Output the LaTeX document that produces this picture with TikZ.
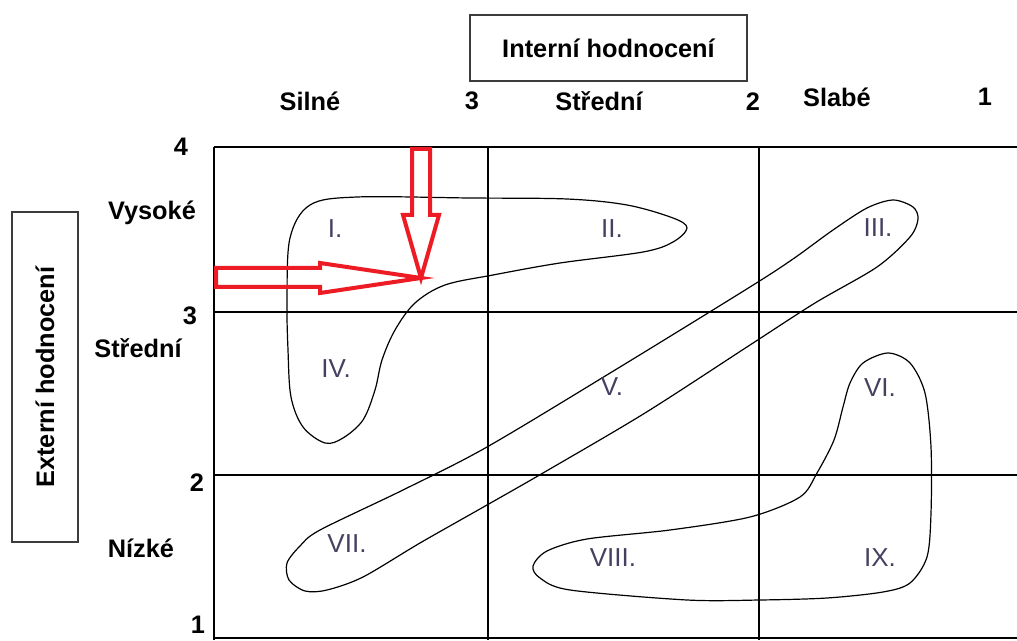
\documentclass[tikz,border=0pt]{standalone}
\usepackage{fontspec}
\setmainfont{Liberation Sans}
\begin{document}
\begin{tikzpicture}[x=0.75pt,y=-0.75pt,
  lbl/.style={font=\fontsize{19}{22}\selectfont\bfseries, inner sep=0pt},
  num/.style={font=\fontsize{19}{22}\selectfont\bfseries, inner sep=0pt},
  zone/.style={font=\fontsize{19.5}{22}\selectfont, text={rgb,255:red,70;green,64;blue,96}, inner sep=0pt},
  titlebox/.style={draw={rgb,255:red,60;green,60;blue,60}, line width=1.1pt, inner sep=0pt},
  gridline/.style={line width=1.1pt, black},
  region/.style={line width=0.9pt, black},
  bigarrow/.style={draw={rgb,255:red,237;green,28;blue,36}, line width=3pt, line join=miter}]
\useasboundingbox (0,0) rectangle (1017,641);

% axis title boxes
\node[titlebox, minimum width=277*0.75pt, minimum height=66*0.75pt, anchor=center] (intbox) at (608.5,48) {};
\node[lbl] (inttxt) at (intbox.center) {Interní hodnocení};
\node[titlebox, minimum width=66*0.75pt, minimum height=330*0.75pt, anchor=center] (extbox) at (45,377) {};
\node[lbl, rotate=90] (exttxt) at (extbox.center) {Externí hodnocení};

% column headings and scale
\node[lbl] (silne) at (310,101) {Silné};
\node[num] (c3) at (472,101) {3};
\node[lbl] (stredniC) at (599,101) {Střední};
\node[num] (c2) at (753,102) {2};
\node[lbl] (slabe) at (837,97) {Slabé};
\node[num] (c1) at (985,97) {1};

% row headings and scale
\node[num] (r4) at (181,147) {4};
\node[lbl] (vysoke) at (152,213) {Vysoké};
\node[num] (r3) at (190,316) {3};
\node[lbl] (stredniR) at (138,348) {Střední};
\node[num] (r2) at (197,483) {2};
\node[lbl] (nizke) at (141,548) {Nízké};
\node[num] (r1) at (198,625) {1};

% grid
\draw[gridline] (214,147) -- (1017,147);
\draw[gridline] (214,312) -- (1017,312);
\draw[gridline] (214,475) -- (1017,475);
\draw[gridline] (214,638) -- (1017,638);
\draw[gridline] (214,147) -- (214,640);
\draw[gridline] (488,147) -- (488,640);
\draw[gridline] (759,147) -- (759,640);

% strategy regions
\draw[region] plot[smooth cycle, tension=0.55] coordinates {
  (357,197) (470,198) (567,199) (627,205) (673,218) (687,228) (673,242) (643,252)
  (560,263) (493,275) (445,285) (415,303) (395,330) (382,360) (375,390)
  (363,420) (343,438) (325,443) (303,427) (291,397) (288,350) (287,300)
  (290,238) (310,205)};
\draw[region] plot[smooth cycle, tension=0.5] coordinates {
  (867,208) (893,200) (913,207) (918,219) (910,237) (877,267) (815,303)
  (750,345) (645,413) (543,473) (487,505) (420,543) (363,577)
  (327,590) (305,591) (289,580) (287,563) (300,546) (320,530) (403,490)
  (487,447) (620,367) (750,287) (793,259) (833,230)};
\draw[region] plot[smooth cycle, tension=0.5] coordinates {
  (888,353) (910,363) (925,393) (931,447) (931,513) (927,557) (910,583)
  (883,592) (827,598) (760,600) (687,600) (570,590) (540,578) (533,566)
  (547,551) (587,539) (670,530) (750,517) (800,497) (817,473) (834,440)
  (843,407) (850,383) (863,363)};

% region labels
\node[zone] (z1) at (335,229) {I.};
\node[zone] (z2) at (612,229) {II.};
\node[zone] (z3) at (878,228) {III.};
\node[zone] (z4) at (336,369) {IV.};
\node[zone] (z5) at (612,387) {V.};
\node[zone] (z6) at (880,388) {VI.};
\node[zone] (z7) at (347,544) {VII.};
\node[zone] (z8) at (613,558) {VIII.};
\node[zone] (z9) at (880,558) {IX.};

% outlined position arrows
\coordinate (tip) at (421,278);
\draw[bigarrow] (412,149) -- (412,215) -- (403,215) -- (tip) -- (439,215)
  -- (430,215) -- (430,149) -- cycle;
\draw[bigarrow] (216,268) -- (320,268) -- (320,263) -- (tip) -- (320,293)
  -- (320,287) -- (216,287) -- cycle;
\end{tikzpicture}
\end{document}
